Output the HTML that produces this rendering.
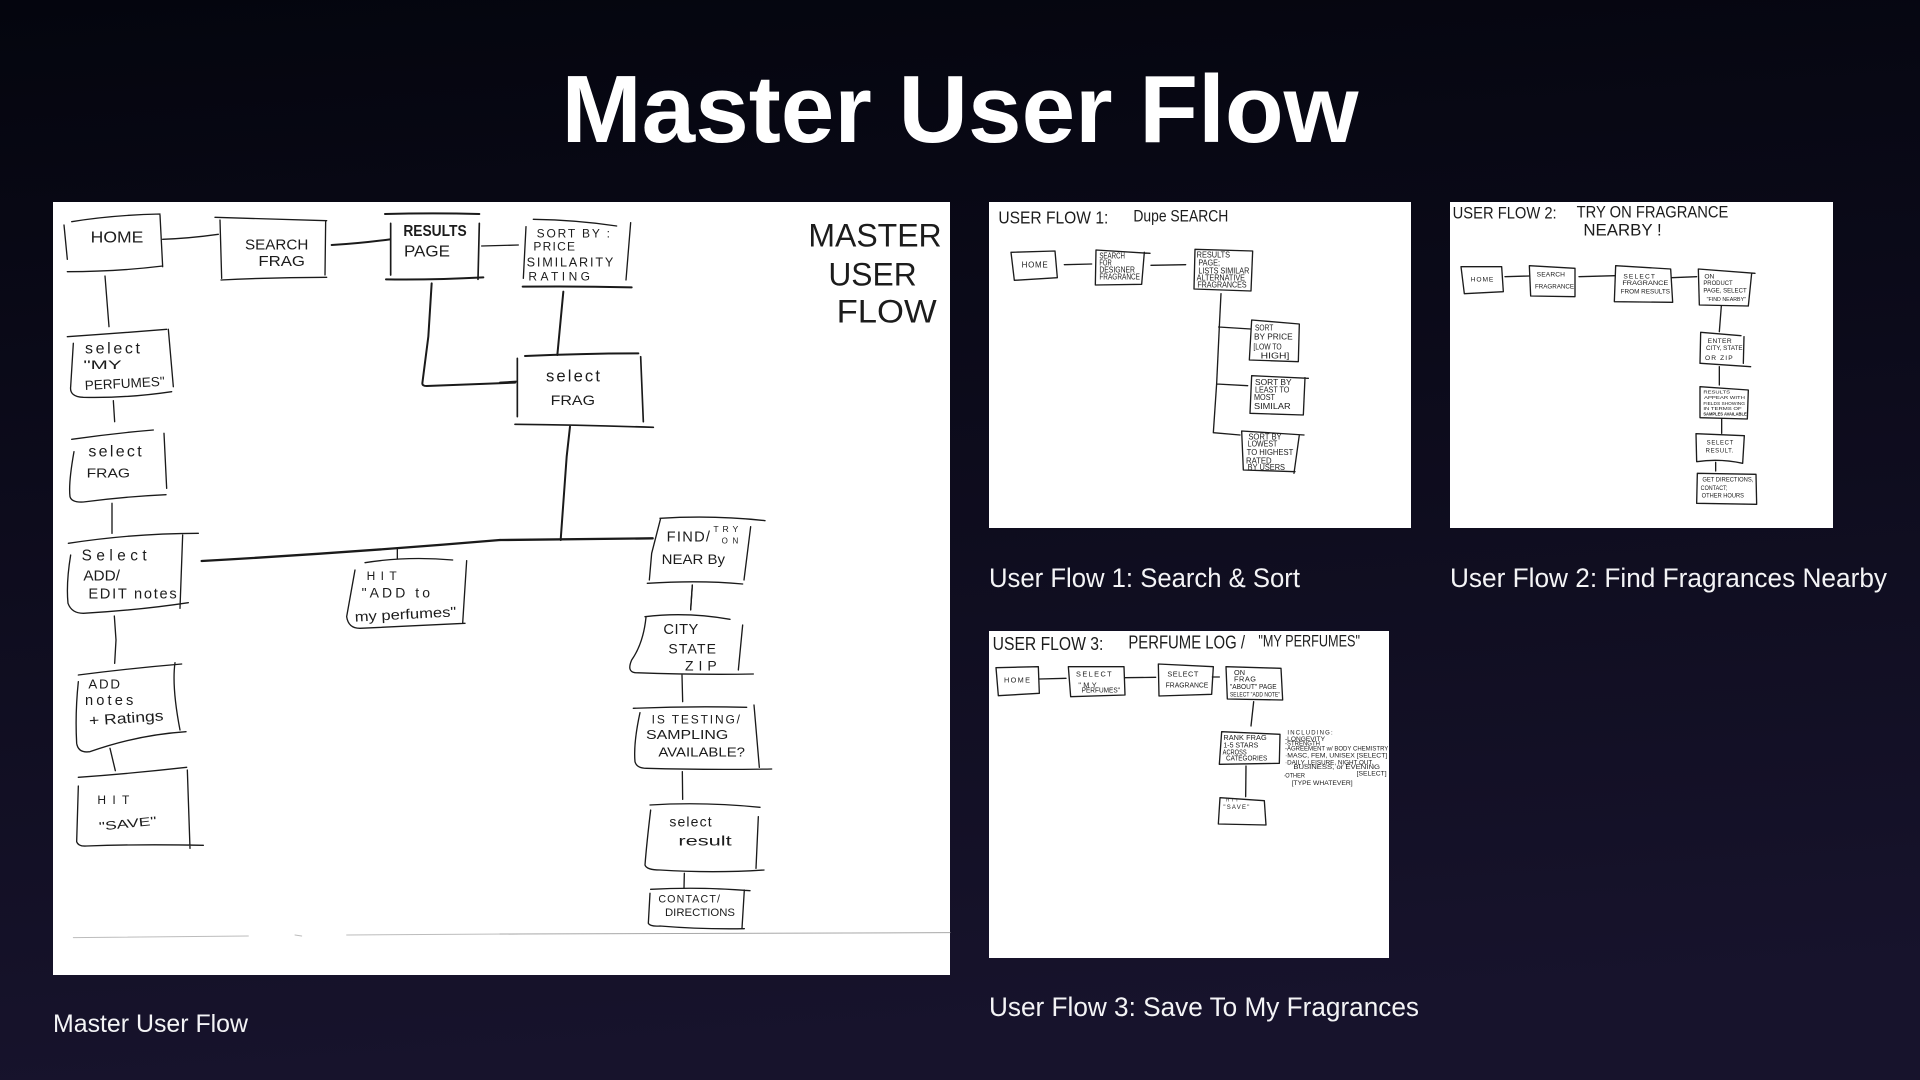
<!DOCTYPE html>
<html><head><meta charset="utf-8"><title>Master User Flow</title>
<style>
html,body{margin:0;padding:0;width:1920px;height:1080px;overflow:hidden;background:#0d0c1c}
svg{display:block}
.h{fill:none;stroke:#1a1a1a;stroke-linecap:round;stroke-linejoin:round}
text{font-family:"Liberation Sans",sans-serif}
.t text{fill:#1c1c1c}
.c text{fill:#f4f4f6}
</style></head><body>
<svg width="1920" height="1080" viewBox="0 0 1920 1080" xmlns="http://www.w3.org/2000/svg">
<defs>
<linearGradient id="bg" x1="0" y1="0" x2="0.12" y2="1"><stop offset="0" stop-color="#04050e"/><stop offset="1" stop-color="#17132c"/></linearGradient>
<filter id="soft" x="-5%" y="-5%" width="110%" height="110%"><feGaussianBlur stdDeviation="1"/></filter>
</defs>
<rect width="1920" height="1080" fill="url(#bg)"/>
<text x="960" y="142" font-size="96" font-weight="700" fill="#fff" text-anchor="middle" textLength="797" lengthAdjust="spacingAndGlyphs">Master User Flow</text>

<rect x="53" y="202" width="897" height="773" fill="#fff"/>
<rect x="989" y="202" width="422" height="326" fill="#fff"/>
<rect x="1450" y="202" width="383" height="326" fill="#fff"/>
<rect x="989" y="631" width="400" height="327" fill="#fff"/>

<g class="c" font-size="25">
<text x="53" y="1032" textLength="195" lengthAdjust="spacingAndGlyphs">Master User Flow</text>
<text x="989" y="587" font-size="27" textLength="311" lengthAdjust="spacingAndGlyphs">User Flow 1: Search &amp; Sort</text>
<text x="1450" y="587" font-size="27" textLength="437" lengthAdjust="spacingAndGlyphs">User Flow 2: Find Fragrances Nearby</text>
<text x="989" y="1016" font-size="27" textLength="430" lengthAdjust="spacingAndGlyphs">User Flow 3: Save To My Fragrances</text>
</g>

<!-- Master: upper left -->
<g transform="translate(40,190) scale(.33333)">
<g class="h" stroke-width="4">
<path d="M95 95Q220 75 360 72M72 105L82 208M82 245Q230 245 368 228M360 75L368 230"/>
<path d="M368 148Q450 145 535 133"/>
<path d="M525 82L860 92M540 90L545 265M857 92L855 255M543 270Q700 262 860 262"/>
<path d="M875 165Q960 160 1050 148" stroke-width="6"/>
<path d="M1035 72Q1180 68 1318 72M1038 268Q1180 270 1330 262" stroke-width="6"/>
<path d="M1052 100L1052 255M1318 100L1314 268" stroke-width="5"/>
<path d="M1325 168L1435 165"/>
<path d="M1175 280L1165 440L1147 580Q1147 588 1160 588L1425 578" stroke-width="6"/>
<path d="M195 258L207 410"/>
<path d="M82 440Q230 430 380 418M385 418L400 590M100 460L92 590Q88 620 130 622Q260 625 395 605"/>
<path d="M220 632L224 695"/>
<path d="M95 748Q220 730 340 720M372 730L380 895M102 785Q85 880 90 920Q95 938 130 936Q250 920 378 914"/>
<path d="M216 940L216 1030"/>
<path d="M85 1060Q280 1030 475 1030M428 1035L420 1255M92 1095Q78 1180 84 1240Q95 1270 130 1270Q300 1260 445 1238"/>
<path d="M485 1113Q930 1088 1380 1050" stroke-width="7"/>
<path d="M1072 1075L1072 1105"/>
<path d="M975 1118Q1100 1098 1238 1110M945 1140L920 1280Q925 1315 960 1315L1275 1300M1280 1112L1268 1300"/>
</g>
<g class="t">
<text x="152" y="158" font-size="46" textLength="158" lengthAdjust="spacingAndGlyphs">HOME</text>
<text x="615" y="178" font-size="44" textLength="190" lengthAdjust="spacingAndGlyphs">SEARCH</text>
<text x="655" y="228" font-size="44" textLength="140" lengthAdjust="spacingAndGlyphs">FRAG</text>
<text x="1090" y="138" font-size="46" font-weight="700" textLength="190" lengthAdjust="spacingAndGlyphs">RESULTS</text>
<text x="1092" y="200" font-size="46" textLength="138" lengthAdjust="spacingAndGlyphs">PAGE</text>
<text x="135" y="490" font-size="48" textLength="165" lengthAdjust="spacing">select</text>
<text x="130" y="537" font-size="36" textLength="115" lengthAdjust="spacingAndGlyphs">"MY</text>
<text x="135" y="600" font-size="40" textLength="240" lengthAdjust="spacingAndGlyphs" transform="rotate(-3 135 600)">PERFUMES"</text>
<text x="145" y="800" font-size="48" textLength="160" lengthAdjust="spacing">select</text>
<text x="140" y="862" font-size="38" textLength="130" lengthAdjust="spacingAndGlyphs">FRAG</text>
<text x="125" y="1112" font-size="46" textLength="195" lengthAdjust="spacing">Select</text>
<text x="130" y="1172" font-size="44" textLength="110" lengthAdjust="spacingAndGlyphs">ADD/</text>
<text x="145" y="1225" font-size="44" textLength="265" lengthAdjust="spacing">EDIT notes</text>
<text x="980" y="1170" font-size="36" textLength="90" lengthAdjust="spacing">HIT</text>
<text x="965" y="1222" font-size="42" textLength="205" lengthAdjust="spacing">"ADD to</text>
<text x="945" y="1295" font-size="42" textLength="305" lengthAdjust="spacingAndGlyphs" transform="rotate(-3 945 1295)">my perfumes"</text>
</g>
</g>

<!-- Master: lower left -->
<g transform="translate(40,560) scale(.33333)">
<g class="h" stroke-width="4">
<path d="M223 168L228 240L224 310"/>
<path d="M115 345Q270 325 425 312M405 308Q395 380 420 510M115 365Q105 460 110 550Q115 580 150 575Q290 525 438 515"/>
<path d="M210 565L226 632"/>
<path d="M115 652Q280 640 440 622M442 630L450 865M115 678L110 845Q115 860 140 858Q300 852 490 856"/>
<path d="M100 1133L625 1128M765 1125L785 1128M920 1125L1440 1122" stroke="#bcbcbc" stroke-width="3"/>
</g>
<g class="t">
<text x="145" y="385" font-size="40" textLength="95" lengthAdjust="spacing">ADD</text>
<text x="135" y="435" font-size="44" textLength="145" lengthAdjust="spacing">notes</text>
<text x="148" y="497" font-size="44" textLength="224" lengthAdjust="spacingAndGlyphs" transform="rotate(-4 148 497)">+ Ratings</text>
<text x="172" y="732" font-size="36" textLength="96" lengthAdjust="spacing">HIT</text>
<text x="178" y="812" font-size="36" textLength="174" lengthAdjust="spacingAndGlyphs" transform="rotate(-6 178 812)">"SAVE"</text>
</g>
</g>

<!-- Master: upper right -->
<g transform="translate(500,190) scale(.33333)">
<g class="h" stroke-width="4">
<path d="M100 88Q230 90 350 108M392 98L378 270M78 110L70 265"/>
<path d="M68 290Q230 288 395 292" stroke-width="6"/>
<path d="M190 305L172 495" stroke-width="6"/>
<path d="M75 498Q250 490 415 490" stroke-width="6"/>
<path d="M52 505L52 680M422 500L430 695M45 703Q250 705 460 712" stroke-width="5"/>
<path d="M0 578L48 575" stroke-width="6"/>
<path d="M210 710L200 800L182 1050" stroke-width="6"/>
<path d="M0 1050L458 1045" stroke-width="7"/>
<path d="M480 985Q640 975 795 992M482 985L455 1090L448 1170M752 1010L732 1170M442 1180Q600 1170 728 1182"/>
<path d="M577 1185L572 1260"/>
</g>
<g class="t">
<text x="110" y="142" font-size="36" textLength="220" lengthAdjust="spacing">SORT BY :</text>
<text x="100" y="182" font-size="36" textLength="125" lengthAdjust="spacing">PRICE</text>
<text x="80" y="230" font-size="38" textLength="260" lengthAdjust="spacing">SIMILARITY</text>
<text x="85" y="272" font-size="36" textLength="185" lengthAdjust="spacing">RATING</text>
<text x="138" y="575" font-size="50" textLength="162" lengthAdjust="spacing">select</text>
<text x="152" y="645" font-size="42" textLength="133" lengthAdjust="spacingAndGlyphs">FRAG</text>
<text x="500" y="1055" font-size="44" textLength="130" lengthAdjust="spacing">FIND/</text>
<text x="640" y="1026" font-size="26" textLength="75" lengthAdjust="spacing">TRY</text>
<text x="665" y="1060" font-size="24" textLength="50" lengthAdjust="spacing">ON</text>
<text x="485" y="1122" font-size="42" textLength="190" lengthAdjust="spacingAndGlyphs">NEAR By</text>
<text x="925" y="170" font-size="98" textLength="400" lengthAdjust="spacingAndGlyphs">MASTER</text>
<text x="985" y="287" font-size="98" textLength="265" lengthAdjust="spacingAndGlyphs">USER</text>
<text x="1010" y="398" font-size="98" textLength="300" lengthAdjust="spacingAndGlyphs">FLOW</text>
</g>
</g>

<!-- Master: lower right -->
<g transform="translate(500,560) scale(.33333)">
<g class="h" stroke-width="4">
<path d="M435 170Q560 155 690 178M438 172Q430 250 395 300Q380 335 405 338Q600 345 760 342M728 195L715 330"/>
<path d="M546 345L548 425"/>
<path d="M400 445Q570 438 740 442M762 435L778 622M420 458Q400 550 405 605Q410 625 440 625Q620 630 815 627"/>
<path d="M547 635L548 718"/>
<path d="M450 735Q610 725 780 742M452 750Q440 850 435 915Q440 930 480 930Q640 940 792 930M775 770L768 925"/>
<path d="M553 940L552 985"/>
<path d="M452 988Q600 980 750 992M733 990L726 1105M450 1000L445 1090Q450 1100 480 1098Q600 1108 733 1106"/>
<path d="M0 1122L1350 1118" stroke="#a8a8a8" stroke-width="3"/>
<path d="M577 75L572 148"/>
</g>
<g class="t">
<text x="490" y="222" font-size="44" textLength="105" lengthAdjust="spacing">CITY</text>
<text x="505" y="280" font-size="42" textLength="143" lengthAdjust="spacing">STATE</text>
<text x="555" y="332" font-size="42" textLength="95" lengthAdjust="spacing">ZIP</text>
<text x="455" y="490" font-size="36" textLength="265" lengthAdjust="spacing">IS TESTING/</text>
<text x="438" y="537" font-size="38" textLength="247" lengthAdjust="spacingAndGlyphs">SAMPLING</text>
<text x="475" y="590" font-size="38" textLength="260" lengthAdjust="spacingAndGlyphs">AVAILABLE?</text>
<text x="508" y="800" font-size="42" textLength="127" lengthAdjust="spacing">select</text>
<text x="535" y="857" font-size="42" textLength="160" lengthAdjust="spacingAndGlyphs">result</text>
<text x="475" y="1028" font-size="32" textLength="185" lengthAdjust="spacing">CONTACT/</text>
<text x="495" y="1068" font-size="34" textLength="210" lengthAdjust="spacingAndGlyphs">DIRECTIONS</text>
</g>
</g>

<!-- User Flow 1 -->
<g transform="translate(980,195) scale(.33333)" filter="url(#soft)">
<g class="h" stroke-width="4" stroke="#222">
<path d="M93 172L225 168L232 248L103 256Z"/>
<path d="M253 209L335 207"/>
<path d="M348 165L510 175M348 165L346 270L485 268L493 172"/>
<path d="M513 211L617 209"/>
<path d="M645 163L818 168L813 288L642 282Z"/>
<path d="M723 296L718 395L710 565L700 713L780 720M716 396L812 402M710 567L803 572"/>
<path d="M815 375L958 387L955 500L808 495Z"/>
<path d="M815 542L985 550M975 548L970 660L810 655L815 542"/>
<path d="M785 708L972 720M958 720L942 835M785 708L790 825L945 830"/>
</g>
<g class="t" font-size="24">
<text x="55" y="85" font-size="54" textLength="330" lengthAdjust="spacingAndGlyphs">USER FLOW 1:</text>
<text x="460" y="80" font-size="50" textLength="285" lengthAdjust="spacingAndGlyphs">Dupe SEARCH</text>
<text x="125" y="218" textLength="78" lengthAdjust="spacing">HOME</text>
<text x="358" y="190" textLength="77" lengthAdjust="spacingAndGlyphs">SEARCH</text>
<text x="358" y="212" textLength="37" lengthAdjust="spacingAndGlyphs">FOR</text>
<text x="358" y="232" textLength="107" lengthAdjust="spacingAndGlyphs">DESIGNER</text>
<text x="358" y="254" textLength="122" lengthAdjust="spacingAndGlyphs">FRAGRANCE</text>
<text x="650" y="188" textLength="100" lengthAdjust="spacingAndGlyphs">RESULTS</text>
<text x="655" y="212" textLength="65" lengthAdjust="spacingAndGlyphs">PAGE;</text>
<text x="655" y="235" textLength="153" lengthAdjust="spacingAndGlyphs">LISTS SIMILAR</text>
<text x="650" y="257" textLength="145" lengthAdjust="spacingAndGlyphs">ALTERNATIVE</text>
<text x="652" y="278" textLength="148" lengthAdjust="spacingAndGlyphs">FRAGRANCES</text>
<text x="825" y="407" textLength="55" lengthAdjust="spacingAndGlyphs">SORT</text>
<text x="822" y="433" textLength="116" lengthAdjust="spacingAndGlyphs">BY PRICE</text>
<text x="820" y="464" textLength="85" lengthAdjust="spacingAndGlyphs">[LOW TO</text>
<text x="842" y="490" textLength="86" lengthAdjust="spacingAndGlyphs">HIGH]</text>
<text x="825" y="570" textLength="110" lengthAdjust="spacingAndGlyphs">SORT BY</text>
<text x="825" y="593" textLength="103" lengthAdjust="spacingAndGlyphs">LEAST TO</text>
<text x="822" y="615" textLength="63" lengthAdjust="spacingAndGlyphs">MOST</text>
<text x="822" y="642" textLength="110" lengthAdjust="spacingAndGlyphs">SIMILAR</text>
<text x="805" y="733" textLength="100" lengthAdjust="spacingAndGlyphs">SORT BY</text>
<text x="803" y="755" textLength="89" lengthAdjust="spacingAndGlyphs">LOWEST</text>
<text x="800" y="780" textLength="140" lengthAdjust="spacingAndGlyphs">TO HIGHEST</text>
<text x="798" y="805" textLength="77" lengthAdjust="spacingAndGlyphs">RATED</text>
<text x="803" y="825" textLength="112" lengthAdjust="spacingAndGlyphs">BY USERS</text>
</g>
</g>

<!-- User Flow 2 -->
<g transform="translate(1440,195) scale(.33333)" filter="url(#soft)">
<g class="h" stroke-width="4" stroke="#222">
<path d="M63 215L185 215L190 290L73 296Z"/>
<path d="M195 245L268 243"/>
<path d="M268 212L405 220L405 305L272 303Z"/>
<path d="M417 245L525 242"/>
<path d="M527 212L692 222L698 322L523 320Z"/>
<path d="M695 248L770 245"/>
<path d="M775 222L945 235M935 235L925 333L778 330L775 222"/>
<path d="M844 333L838 410"/>
<path d="M782 412L903 422M782 412L780 505M912 425L910 505M782 505L932 515"/>
<path d="M838 515L838 570"/>
<path d="M780 575L925 585L922 672L780 668Z"/>
<path d="M845 672L845 715"/>
<path d="M768 716L913 722L908 805Q840 790 770 800Z"/>
<path d="M827 802L827 828"/>
<path d="M772 835L948 838L950 928L770 925Z"/>
</g>
<g class="t" font-size="20">
<text x="38" y="70" font-size="50" textLength="312" lengthAdjust="spacingAndGlyphs">USER FLOW 2:</text>
<text x="410" y="68" font-size="50" textLength="455" lengthAdjust="spacingAndGlyphs">TRY ON FRAGRANCE</text>
<text x="430" y="122" font-size="50" textLength="235" lengthAdjust="spacingAndGlyphs">NEARBY !</text>
<text x="92" y="260" textLength="68" lengthAdjust="spacing">HOME</text>
<text x="290" y="245" textLength="85" lengthAdjust="spacing">SEARCH</text>
<text x="285" y="280" textLength="117" lengthAdjust="spacingAndGlyphs">FRAGRANCE</text>
<text x="550" y="250" textLength="95" lengthAdjust="spacing">SELECT</text>
<text x="547" y="270" textLength="138" lengthAdjust="spacingAndGlyphs">FRAGRANCE</text>
<text x="542" y="295" textLength="148" lengthAdjust="spacingAndGlyphs">FROM RESULTS</text>
<text x="793" y="250" textLength="30" lengthAdjust="spacing">ON</text>
<text x="790" y="270" textLength="88" lengthAdjust="spacingAndGlyphs">PRODUCT</text>
<text x="790" y="292" textLength="130" lengthAdjust="spacingAndGlyphs">PAGE, SELECT</text>
<text x="800" y="318" font-size="17" textLength="118" lengthAdjust="spacingAndGlyphs">"FIND NEARBY"</text>
<text x="803" y="444" textLength="72" lengthAdjust="spacing">ENTER</text>
<text x="798" y="465" textLength="110" lengthAdjust="spacingAndGlyphs">CITY, STATE</text>
<text x="795" y="495" textLength="83" lengthAdjust="spacing">OR ZIP</text>
<text x="790" y="595" font-size="15" textLength="80" lengthAdjust="spacingAndGlyphs">RESULTS</text>
<text x="792" y="612" font-size="15" textLength="123" lengthAdjust="spacingAndGlyphs">APPEAR WITH</text>
<text x="790" y="630" font-size="15" textLength="125" lengthAdjust="spacingAndGlyphs">FIELDS SHOWING</text>
<text x="790" y="645" font-size="15" textLength="115" lengthAdjust="spacingAndGlyphs">IN TERMS OF</text>
<text x="790" y="662" font-size="15" font-weight="700" textLength="130" lengthAdjust="spacingAndGlyphs">SAMPLES AVAILABLE</text>
<text x="800" y="748" font-size="18" textLength="80" lengthAdjust="spacing">SELECT</text>
<text x="797" y="772" font-size="18" textLength="83" lengthAdjust="spacing">RESULT.</text>
<text x="787" y="860" font-size="18" textLength="153" lengthAdjust="spacingAndGlyphs">GET DIRECTIONS,</text>
<text x="782" y="885" font-size="18" textLength="80" lengthAdjust="spacingAndGlyphs">CONTACT;</text>
<text x="785" y="907" font-size="18" textLength="127" lengthAdjust="spacingAndGlyphs">OTHER HOURS</text>
</g>
</g>

<!-- User Flow 3 -->
<g transform="translate(980,625) scale(.33333)" filter="url(#soft)">
<g class="h" stroke-width="4" stroke="#222">
<path d="M48 128L175 125L178 205L55 212Z"/>
<path d="M178 162L258 160"/>
<path d="M265 125L432 125L435 210L272 215Z"/>
<path d="M435 158L527 157"/>
<path d="M535 117L700 125L695 208L537 213Z"/>
<path d="M697 156L718 156"/>
<path d="M738 125L903 130L908 225L742 222Z"/>
<path d="M821 230L813 303"/>
<path d="M725 320L900 328L898 415L718 418Z"/>
<path d="M798 423L797 515"/>
<path d="M720 518L853 527L858 600L715 597Z"/>
</g>
<g class="t" font-size="22">
<text x="38" y="75" font-size="56" textLength="332" lengthAdjust="spacingAndGlyphs">USER FLOW 3:</text>
<text x="445" y="70" font-size="56" textLength="350" lengthAdjust="spacingAndGlyphs">PERFUME LOG /</text>
<text x="835" y="65" font-size="50" textLength="305" lengthAdjust="spacingAndGlyphs">"MY PERFUMES"</text>
<text x="72" y="172" textLength="78" lengthAdjust="spacing">HOME</text>
<text x="288" y="155" textLength="107" lengthAdjust="spacing">SELECT</text>
<text x="295" y="187" textLength="55" lengthAdjust="spacing">"MY</text>
<text x="305" y="202" textLength="115" lengthAdjust="spacingAndGlyphs">PERFUMES"</text>
<text x="562" y="155" textLength="93" lengthAdjust="spacing">SELECT</text>
<text x="557" y="187" textLength="128" lengthAdjust="spacingAndGlyphs">FRAGRANCE</text>
<text x="762" y="150" textLength="33" lengthAdjust="spacing">ON</text>
<text x="762" y="170" textLength="66" lengthAdjust="spacing">FRAG</text>
<text x="750" y="192" textLength="140" lengthAdjust="spacingAndGlyphs">"ABOUT" PAGE</text>
<text x="750" y="215" font-size="18" textLength="150" lengthAdjust="spacingAndGlyphs">SELECT "ADD NOTE"</text>
<text x="730" y="345" textLength="130" lengthAdjust="spacing">RANK FRAG</text>
<text x="730" y="367" textLength="105" lengthAdjust="spacingAndGlyphs">1-5 STARS</text>
<text x="728" y="388" textLength="72" lengthAdjust="spacingAndGlyphs">ACROSS</text>
<text x="738" y="407" textLength="124" lengthAdjust="spacingAndGlyphs">CATEGORIES</text>
<text x="738" y="530" font-size="14" textLength="37" lengthAdjust="spacing">HIT</text>
<text x="730" y="552" font-size="18" textLength="78" lengthAdjust="spacing">"SAVE"</text>
<text x="922" y="328" font-size="18" textLength="136" lengthAdjust="spacing">INCLUDING:</text>
<text x="915" y="348" font-size="18" textLength="120" lengthAdjust="spacingAndGlyphs">-LONGEVITY</text>
<text x="915" y="362" font-size="18" textLength="105" lengthAdjust="spacingAndGlyphs">-STRENGTH</text>
<text x="915" y="377" font-size="18" textLength="310" lengthAdjust="spacingAndGlyphs">-AGREEMENT w/ BODY CHEMISTRY</text>
<text x="915" y="397" font-size="18" textLength="307" lengthAdjust="spacingAndGlyphs">·MASC, FEM, UNISEX [SELECT]</text>
<text x="915" y="418" font-size="18" textLength="265" lengthAdjust="spacingAndGlyphs">·DAILY, LEISURE, NIGHT OUT,</text>
<text x="940" y="432" font-size="18" textLength="260" lengthAdjust="spacingAndGlyphs">BUSINESS, or EVENING</text>
<text x="1130" y="452" font-size="18" textLength="90" lengthAdjust="spacingAndGlyphs">[SELECT]</text>
<text x="910" y="457" font-size="18" textLength="65" lengthAdjust="spacingAndGlyphs">·OTHER</text>
<text x="935" y="480" font-size="18" textLength="183" lengthAdjust="spacingAndGlyphs">[TYPE WHATEVER]</text>
</g>
</g>
</svg>
</body></html>
